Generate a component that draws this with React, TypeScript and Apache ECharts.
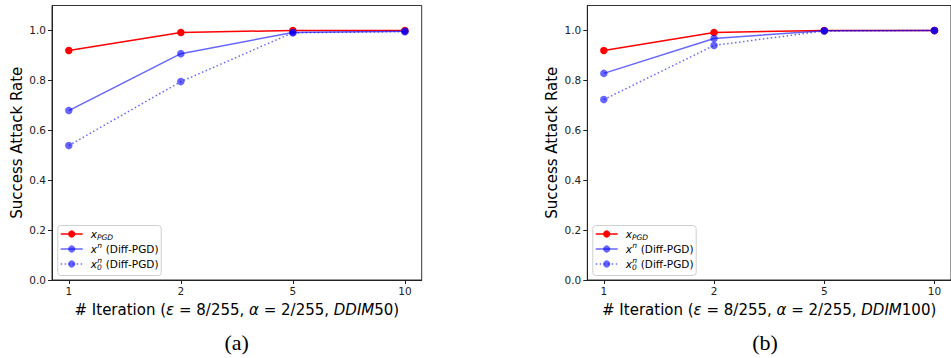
import React, { useEffect, useRef } from "react";
import * as echarts from "echarts";

const categories = ["1", "2", "5", "10"];
const yTicks = [0, 0.2, 0.4, 0.6, 0.8, 1.0];

// Panel (a): DDIM50
const pgdA = [0.92, 0.992, 1.0, 1.0];
const diffXnA = [0.679, 0.907, 0.992, 0.997];
const diffX0A = [0.539, 0.795, 0.991, 0.995];

// Panel (b): DDIM100
const pgdB = [0.92, 0.992, 1.0, 1.0];
const diffXnB = [0.828, 0.968, 0.999, 1.0];
const diffX0B = [0.723, 0.94, 0.998, 1.0];

const xNameA = "DDIM50";
const xNameB = "DDIM100";
const captions = ["(a)", "(b)"];

const FONT = "DejaVu Sans";
const RED = "#ff0000";
const BLUE = "rgba(0,0,255,0.6)";

function toPts(arr: number[]) {
  return arr.map((v, i) => [i, v]);
}

function legendGroup(ox: number) {
  const bx = ox + 57.3;
  const rows = [234, 249, 264];
  const lx1 = ox + 60.7;
  const lx2 = ox + 82.7;
  const mx = ox + 71.7;
  const tx = ox + 90.7;
  const els: any[] = [];
  els.push({
    type: "rect",
    shape: { x: bx + 0.5, y: 225.5, width: 103.4, height: 50, r: 3 },
    style: { fill: "rgba(255,255,255,0.8)", stroke: "#d0d0d0", lineWidth: 1 },
    z: 100,
  });
  const styles = [
    { color: RED, dash: null as any },
    { color: BLUE, dash: null as any },
    { color: BLUE, dash: [1.5, 2.5] },
  ];
  rows.forEach((ry, k) => {
    els.push({
      type: "line",
      shape: { x1: lx1, y1: ry, x2: lx2, y2: ry },
      style: { stroke: styles[k].color, lineWidth: 1.5, lineDash: styles[k].dash },
      z: 101,
    });
    els.push({
      type: "circle",
      shape: { cx: mx, cy: ry, r: 3.6 },
      style: { fill: styles[k].color, stroke: null },
      z: 101,
    });
  });
  const txt = (x: number, y: number, s: string, size: number, italic: boolean) => ({
    type: "text",
    x,
    y,
    style: {
      text: s,
      fontFamily: FONT,
      fontSize: size,
      fontStyle: italic ? "italic" : "normal",
      fill: "#000",
      verticalAlign: "middle",
      align: "left",
    },
    z: 102,
  });
  els.push(txt(tx, rows[0], "x", 10.5, true));
  els.push(txt(tx + 6.3, rows[0] + 3, "PGD", 7.5, true));
  els.push(txt(tx, rows[1], "x", 10.5, true));
  els.push(txt(tx + 6.5, rows[1] - 4, "n", 7.5, true));
  els.push(txt(tx + 15, rows[1], "(Diff-PGD)", 10.5, false));
  els.push(txt(tx, rows[2], "x", 10.5, true));
  els.push(txt(tx + 6.3, rows[2] + 3.5, "0", 7.5, true));
  els.push(txt(tx + 6.5, rows[2] - 4, "n", 7.5, true));
  els.push(txt(tx + 15, rows[2], "(Diff-PGD)", 10.5, false));
  return els;
}

export default function App() {
  const ref = useRef<HTMLDivElement>(null);
  useEffect(() => {
    if (!ref.current) return;
    const chart = echarts.init(ref.current, null, { renderer: "svg" });
    const grids = [
      { left: 52, top: 5.5, width: 369.7, height: 274.5 },
      { left: 587.3, top: 5.5, width: 369.2, height: 274.5 },
    ];
    const xNames = [xNameA, xNameB];
    const xAxis = grids.map((_, gi) => ({
      type: "value",
      gridIndex: gi,
      min: -0.15,
      max: 3.15,
      name: `{n|# Iteration (}{i|ε}{n| = 8/255, }{i|α}{n| = 2/255, }{i|DDIM}{n|${xNames[gi].replace("DDIM", "")})}`,
      nameLocation: "middle",
      nameGap: 22,
      nameTextStyle: {
        rich: {
          n: { fontFamily: FONT, fontSize: 15, color: "#000" },
          i: { fontFamily: FONT, fontSize: 15, fontStyle: "italic", color: "#000" },
        },
      },
      axisLine: { show: true, onZero: false, lineStyle: { color: "#222", width: 1 } },
      axisTick: { show: true, length: 4, customValues: [0, 1, 2, 3], lineStyle: { color: "#222" } },
      axisLabel: {
        customValues: [0, 1, 2, 3],
        formatter: (v: number) => categories[Math.round(v)] ?? "",
        fontFamily: FONT,
        fontSize: 10.5,
        color: "#222",
        margin: 5,
      },
      splitLine: { show: false },
    }));
    const yAxis = grids.map((_, gi) => ({
      type: "value",
      gridIndex: gi,
      min: 0,
      max: 1.1,
      name: "Success Attack Rate",
      nameLocation: "middle",
      nameGap: 28,
      nameTextStyle: { fontFamily: FONT, fontSize: 15, color: "#000" },
      axisLine: { show: true, onZero: false, lineStyle: { color: "#222", width: 1 } },
      axisTick: { show: true, length: 4, customValues: yTicks, lineStyle: { color: "#222" } },
      axisLabel: {
        customValues: yTicks,
        formatter: (v: number) => v.toFixed(1),
        fontFamily: FONT,
        fontSize: 10.5,
        color: "#222",
        margin: 6,
      },
      splitLine: { show: false },
    }));
    const mk = (gi: number, data: number[], color: string, dotted: boolean, z: number) => ({
      type: "line",
      xAxisIndex: gi,
      yAxisIndex: gi,
      data: toPts(data),
      symbol: "circle",
      symbolSize: 7.5,
      showSymbol: true,
      z,
      itemStyle: { color, borderWidth: 0 },
      lineStyle: { color, width: 1.5, type: dotted ? [1.5, 2.5] : "solid" },
      emphasis: { disabled: true },
    });
    chart.setOption({
      animation: false,
      backgroundColor: "#fff",
      grid: grids.map((g) => ({ ...g, show: true, borderColor: "#333", borderWidth: 1, backgroundColor: "transparent" })),
      xAxis,
      yAxis,
      series: [
        mk(0, pgdA, RED, false, 2),
        mk(0, diffXnA, BLUE, false, 3),
        mk(0, diffX0A, BLUE, true, 4),
        mk(1, pgdB, RED, false, 2),
        mk(1, diffXnB, BLUE, false, 3),
        mk(1, diffX0B, BLUE, true, 4),
      ],
      graphic: [
        ...legendGroup(0),
        ...legendGroup(535),
        {
          type: "text",
          x: 236.7,
          y: 342,
          style: {
            text: captions[0],
            fontFamily: "Liberation Serif",
            fontSize: 22,
            fill: "#000",
            align: "center",
            verticalAlign: "middle",
          },
        },
        {
          type: "text",
          x: 765,
          y: 342,
          style: {
            text: captions[1],
            fontFamily: "Liberation Serif",
            fontSize: 22,
            fill: "#000",
            align: "center",
            verticalAlign: "middle",
          },
        },
      ],
    });
    return () => chart.dispose();
  }, []);
  return (
    <div
      ref={ref}
      style={{ position: "fixed", left: 0, top: 0, width: 951, height: 358 }}
    />
  );
}
